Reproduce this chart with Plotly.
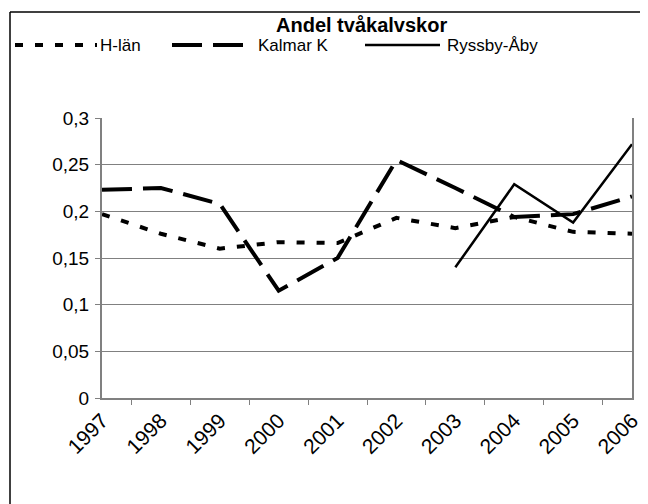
import plotly.graph_objects as go

years = ["1997", "1998", "1999", "2000", "2001", "2002", "2003", "2004", "2005", "2006"]
h_lan = [0.197, 0.176, 0.160, 0.167, 0.166, 0.193, 0.182, 0.194, 0.178, 0.176]
kalmar = [0.223, 0.225, 0.208, 0.115, 0.150, 0.255, 0.225, 0.194, 0.197, 0.216]
ryssby = [None, None, None, None, None, None, 0.140, 0.229, 0.188, 0.272]
series_names = ["H-län", "Kalmar K", "Ryssby-Åby"]
y_ticks = [0, 0.05, 0.1, 0.15, 0.2, 0.25, 0.3]
y_tick_text = ["0", "0,05", "0,1", "0,15", "0,2", "0,25", "0,3"]
title_text = "Andel tvåkalvskor"

FONT = "Liberation Sans, Arial, sans-serif"
DOT = "8px,12px"
DASH = "30px,11px"

fig = go.Figure()
fig.add_trace(go.Scatter(x=years, y=h_lan, name=series_names[0], mode="lines",
                         line=dict(color="black", width=4, dash=DOT)))
fig.add_trace(go.Scatter(x=years, y=kalmar, name=series_names[1], mode="lines",
                         line=dict(color="black", width=4, dash=DASH)))
fig.add_trace(go.Scatter(x=years, y=ryssby, name=series_names[2], mode="lines",
                         line=dict(color="black", width=2.5), connectgaps=False))

# the page body has an 8px default margin: work in window pixels, shift by OFF
OFF = 8
W, H = 648 - OFF, 504 - OFF
L, R, T, B = 102 - OFF, 632 - OFF, 118 - OFF, 398 - OFF

def px(x):
    return (x - OFF - L) / (R - L)

def py(y):
    return (B - (y - OFF)) / (B - T)

LEG_Y = 45
legend_items = [
    (series_names[0], 15, 97, 98, dict(color="black", width=4, dash=DOT)),
    (series_names[1], 172, 247, 256, dict(color="black", width=4, dash=DASH)),
    (series_names[2], 365, 440, 445, dict(color="black", width=2.5)),
]
frame = dict(color="black", width=1.5)
shapes = [
    dict(type="line", xref="paper", yref="paper",
         x0=px(10), x1=px(10), y0=py(12), y1=py(520), line=frame),
    dict(type="line", xref="paper", yref="paper",
         x0=px(10), x1=px(660), y0=py(12), y1=py(12), line=frame),
]
annotations = [dict(text="<b>" + title_text + "</b>", xref="paper", yref="paper",
                    x=px(361), y=py(25), xanchor="center", yanchor="middle",
                    showarrow=False, font=dict(size=20))]
for name, x0, x1, xt, ln in legend_items:
    shapes.append(dict(type="line", xref="paper", yref="paper",
                       x0=px(x0), x1=px(x1), y0=py(LEG_Y), y1=py(LEG_Y), line=ln))
    annotations.append(dict(text=name, xref="paper", yref="paper", x=px(xt), y=py(LEG_Y),
                            xanchor="left", yanchor="middle", showarrow=False,
                            font=dict(size=17)))

fig.update_layout(
    width=W, height=H,
    margin=dict(l=L, r=W - R, t=T, b=H - B, autoexpand=False),
    paper_bgcolor="white", plot_bgcolor="white",
    font=dict(family=FONT, size=19, color="black"),
    showlegend=False,
    xaxis=dict(type="category", tickangle=-45, ticks="outside", ticklen=5,
               tickson="boundaries", showline=True, linecolor="#808080", linewidth=2,
               showgrid=False, tickcolor="#808080", tickfont=dict(size=21),
               automargin=False),
    yaxis=dict(range=[0, 0.3], tickvals=y_ticks, ticktext=y_tick_text,
               ticks="outside", ticklen=5, tickcolor="#808080",
               showline=True, linecolor="#808080", linewidth=2, mirror=True,
               showgrid=True, gridcolor="#808080", gridwidth=1,
               zeroline=False, tickfont=dict(size=19), automargin=False,
               ticklabelstandoff=2),
    annotations=annotations,
    shapes=shapes,
)

fig.write_html("out.html")
